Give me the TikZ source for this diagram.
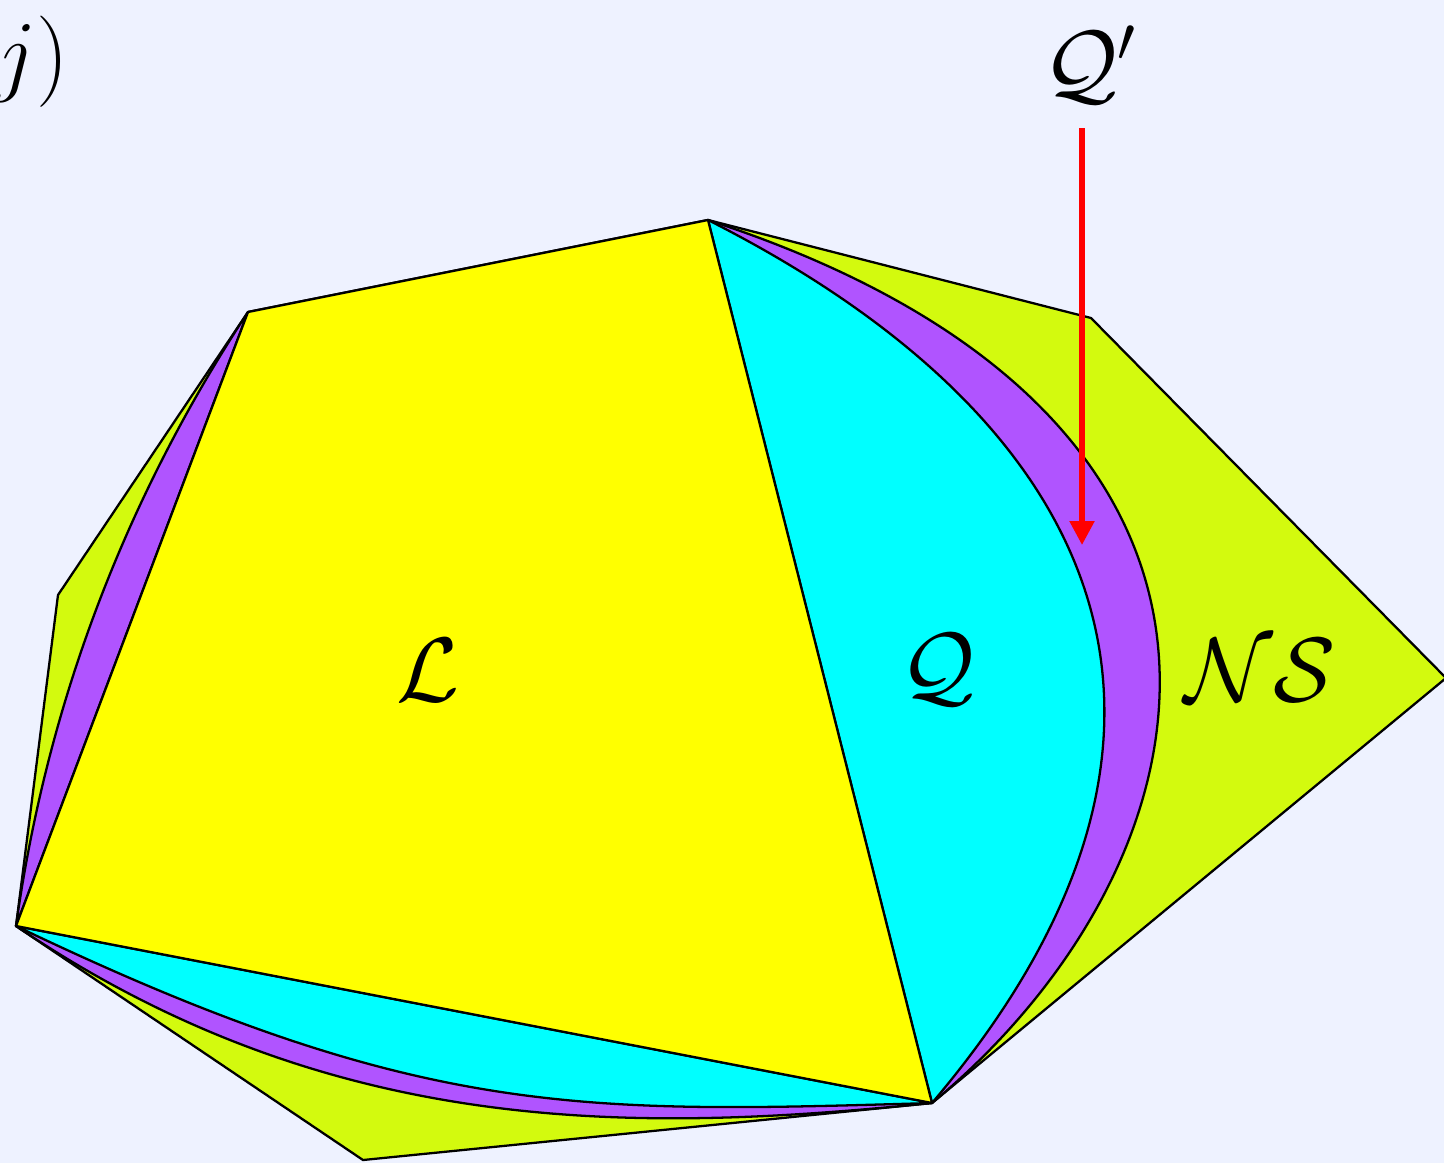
\RequirePackage{fix-cm}
\documentclass[tikz,border=0pt]{standalone}
\usepackage{xcolor}
\usetikzlibrary{arrows.meta}
\definecolor{bgblue}{RGB}{238,242,255}
\definecolor{lyellow}{RGB}{255,255,0}
\definecolor{qcyan}{RGB}{0,255,255}
\definecolor{qpurple}{RGB}{176,84,255}
\definecolor{nsgreen}{RGB}{211,250,14}
\definecolor{arrred}{RGB}{255,0,0}

\begin{document}
\begin{tikzpicture}[every node/.style={font=\fontsize{26}{30}\selectfont}]
  \tikzset{
      region/.style={draw=black, line width=0.65pt, line join=round},
      pointer/.style={draw=arrred, line width=1.5pt, -{Triangle[length=0.24cm, width=0.24cm]}},
      tag/.style={inner sep=0pt}
  }
  \fill[bgblue] (0,0) rectangle (14.44,-11.63);
  \useasboundingbox (0,0) rectangle (14.44,-11.63);

  % corners of L and of NS
  \coordinate (a) at (2.48,-3.12);
  \coordinate (b) at (7.08,-2.20);
  \coordinate (c) at (9.32,-11.03);
  \coordinate (d) at (0.16,-9.26);
  \coordinate (e) at (10.91,-3.18);
  \coordinate (f) at (14.46,-6.78);
  \coordinate (g) at (3.63,-11.60);
  \coordinate (h) at (0.58,-5.95);

  \path[region, fill=nsgreen] (b) -- (e) -- (f) -- (c) -- (g) -- (d) -- (h) -- (a) -- cycle;
  \path[region, fill=qpurple] (b) .. controls (13.16,-4.18) and (12.25,-8.60) .. (c) -- cycle;
  \path[region, fill=qpurple] (d) .. controls (3.31,-11.39) and (6.34,-11.33) .. (c) -- cycle;
  \path[region, fill=qpurple] (a) .. controls (1.25,-4.99) and (0.47,-7.04) .. (d) -- cycle;
  \path[region, fill=qcyan] (b) .. controls (11.17,-4.27) and (12.40,-7.40) .. (c) -- cycle;
  \path[region, fill=qcyan] (d) .. controls (4.21,-11.20) and (5.82,-11.13) .. (c) -- cycle;
  \path[region, fill=lyellow] (a) -- (b) -- (c) -- (d) -- cycle;

  \node[tag] (llab)  at (4.28,-6.70)  {$\mathcal{L}$};
  \node[tag] (qlab)  at (9.38,-6.70)  {$\mathcal{Q}$};
  \node[tag] (nslab) at (12.60,-6.70) {$\mathcal{NS}$};
  \node[tag] (qplab) at (10.90,-0.65) {$\mathcal{Q}'$};
  \node[tag, anchor=east] (jlab) at (0.70,-0.62) {$(j)$};

  \coordinate (ptop) at (10.82,-1.28);
  \coordinate (ptip) at (10.82,-5.45);
  \draw[pointer] (ptop) -- (ptip);
\end{tikzpicture}
\end{document}
